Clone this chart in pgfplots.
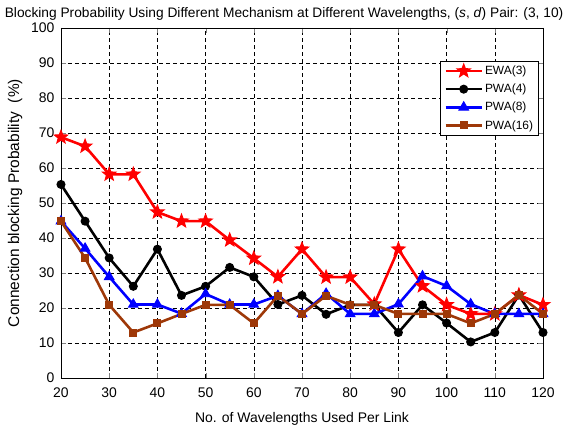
\documentclass[border=0pt]{standalone}
\usepackage{pgfplots}
\pgfplotsset{compat=1.18}
\usepackage{fontspec}
\setmainfont{Liberation Sans}
\definecolor{brownc}{RGB}{158,56,8}
\pgfdeclareplotmark{fstar}{%
  \pgfpathmoveto{\pgfpointpolar{90}{\pgfplotmarksize}}%
  \pgfpathlineto{\pgfpointpolar{126}{0.42\pgfplotmarksize}}%
  \pgfpathlineto{\pgfpointpolar{162}{\pgfplotmarksize}}%
  \pgfpathlineto{\pgfpointpolar{198}{0.42\pgfplotmarksize}}%
  \pgfpathlineto{\pgfpointpolar{234}{\pgfplotmarksize}}%
  \pgfpathlineto{\pgfpointpolar{270}{0.42\pgfplotmarksize}}%
  \pgfpathlineto{\pgfpointpolar{306}{\pgfplotmarksize}}%
  \pgfpathlineto{\pgfpointpolar{342}{0.42\pgfplotmarksize}}%
  \pgfpathlineto{\pgfpointpolar{18}{\pgfplotmarksize}}%
  \pgfpathlineto{\pgfpointpolar{54}{0.42\pgfplotmarksize}}%
  \pgfpathclose
  \pgfusepathqfillstroke}
\begin{document}
\begin{tikzpicture}[x=1bp,y=1bp]
\begin{axis}[
  scale only axis,
  width=482bp, height=350bp,
  xmin=20, xmax=120, ymin=0, ymax=100,
  xtick={20,30,...,120}, ytick={0,10,...,100},
  tick align=inside,
  major tick length=5bp,
  grid=major,
  grid style={black, line width=0.6pt, dash pattern=on 4bp off 3bp},
  axis line style={black, line width=0.8pt},
  /pgf/number format/assume math mode=true,
  tick label style={font=\fontsize{14}{16}\selectfont},
  xticklabel style={yshift=-6bp},
  yticklabel style={xshift=-3bp},
  xlabel={No. of Wavelengths Used Per Link},
  xlabel style={font=\fontsize{14}{16}\selectfont, yshift=-8bp},
  ylabel={Connection blocking Probability\ \ (\%)},
  ylabel style={font=\fontsize{15.5}{17}\selectfont, yshift=2bp},
  title={Blocking Probability Using Different Mechanism at Different Wavelengths, (\textit{s}, \textit{d}) Pair: (3, 10)},
  title style={font=\fontsize{13.8}{16}\selectfont, at={(rel axis cs:0.4627,1)}, anchor=south, yshift=-2bp},
  legend style={at={(rel axis cs:0.9917,0.9057)}, anchor=north east, draw=black, line width=0.9pt, fill=white, font=\fontsize{12}{14}\selectfont, inner xsep=3.5bp, inner ysep=2.5bp, row sep=4bp},
  legend cell align=left,
  legend image code/.code={\draw[#1, line width=2.6pt] (0bp,0bp) -- (36bp,0bp); \path[#1, mark repeat=1] plot coordinates {(18bp,0bp)};},
]
\addplot[red, line width=2.6pt, mark=fstar, mark size=7bp, mark options={solid, line width=1pt, fill=red}] coordinates {
(20,68.8)(25,66.2)(30,58.2)(35,58.2)(40,47.4)(45,44.8)(50,44.8)(55,39.4)(60,34.2)(65,28.9)(70,36.8)(75,28.8)(80,28.8)(85,21.1)(90,36.8)(95,26.3)(100,20.9)(105,18.3)(110,18.3)(115,23.7)(120,20.9)};
\addlegendentry{EWA(3)}
\addplot[black, line width=2.6pt, mark=*, mark size=4bp, mark options={solid, line width=1pt}] coordinates {
(20,55.3)(25,44.8)(30,34.3)(35,26.2)(40,36.8)(45,23.6)(50,26.2)(55,31.6)(60,28.9)(65,21.0)(70,23.6)(75,18.2)(80,20.9)(85,20.9)(90,13.0)(95,20.9)(100,15.7)(105,10.3)(110,13.0)(115,23.7)(120,13.0)};
\addlegendentry{PWA(4)}
\addplot[blue, line width=2.6pt, mark=triangle*, mark size=5.5bp, mark options={solid, line width=1pt}] coordinates {
(20,44.8)(25,37.0)(30,28.9)(35,21.0)(40,21.0)(45,18.4)(50,24.0)(55,21.0)(60,21.0)(65,23.5)(70,18.3)(75,24.1)(80,18.3)(85,18.3)(90,21.1)(95,29.1)(100,26.3)(105,21.1)(110,18.3)(115,18.3)(120,18.3)};
\addlegendentry{PWA(8)}
\addplot[brownc, line width=2.6pt, mark=square*, mark size=3.5bp, mark options={solid, line width=1pt}] coordinates {
(20,44.8)(25,34.3)(30,20.9)(35,13.0)(40,15.6)(45,18.3)(50,20.9)(55,20.9)(60,15.6)(65,23.5)(70,18.3)(75,23.5)(80,20.9)(85,20.9)(90,18.3)(95,18.3)(100,18.3)(105,15.6)(110,18.3)(115,23.7)(120,18.3)};
\addlegendentry{PWA(16)}
\end{axis}
\pgfresetboundingbox
\path (-61bp,-51bp) rectangle (508bp,378bp);
\end{tikzpicture}
\end{document}
